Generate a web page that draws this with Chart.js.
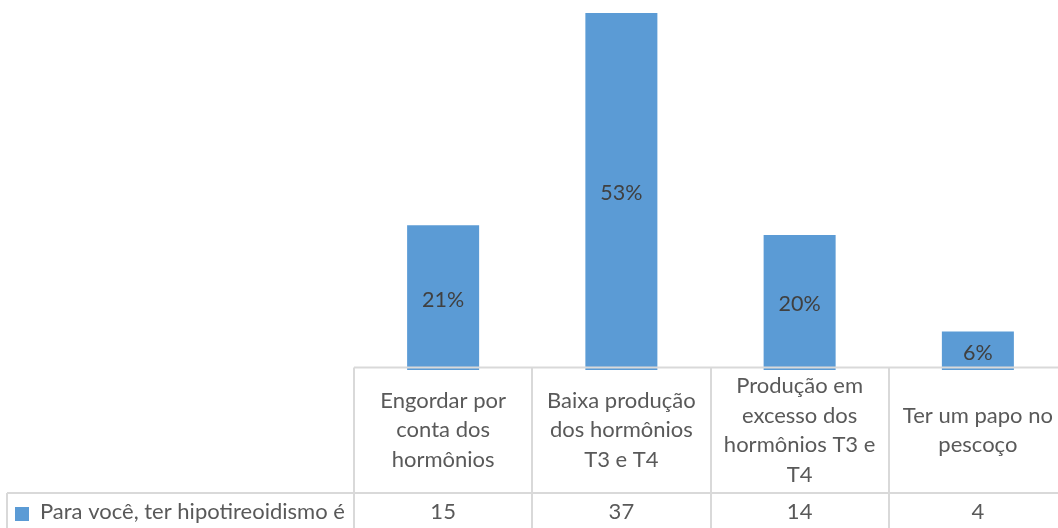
<!DOCTYPE html>
<html>
<head>
<meta charset="utf-8">
<script src="https://cdn.jsdelivr.net/npm/chart.js@4/dist/chart.umd.min.js"></script>
<style>
  html, body { margin: 0; padding: 0; background: #fff; overflow: hidden; }
  #wrap { width: 1058px; height: 528px; overflow: hidden; }
</style>
</head>
<body>
<div id="wrap"><canvas id="grafico" width="1068" height="528"></canvas></div>
<script>
// categorias (já quebradas em linhas como na tabela de dados)
var categorias = [
  ['Engordar por', 'conta dos', 'hormônios'],
  ['Baixa produção', 'dos hormônios', 'T3 e T4'],
  ['Produção em', 'excesso dos', 'hormônios T3 e', 'T4'],
  ['Ter um papo no', 'pescoço']
];
var respostas = [15, 37, 14, 4];
var nomeSerie = 'Para você, ter hipotireoidismo é';

var AZUL  = '#5b9bd5';
var LINHA = '#d9d9d9';
var FONTE = 'Lato, "Liberation Sans", sans-serif';

var total = respostas.reduce(function (a, b) { return a + b; }, 0);

// rótulos % no meio das barras + tabela de dados embaixo
var tabelaDados = {
  id: 'tabelaDados',
  afterDatasetsDraw: function (chart) {
    var ctx  = chart.ctx;
    var meta = chart.getDatasetMeta(0);
    ctx.save();
    ctx.font = '21.5px ' + FONTE;
    ctx.fillStyle = '#404040';
    ctx.textAlign = 'center';
    ctx.textBaseline = 'middle';
    meta.data.forEach(function (bar, i) {
      var pct = Math.round(respostas[i] / total * 100) + '%';
      ctx.fillText(pct, bar.x, (bar.y + bar.base) / 2 + 2);
    });
    ctx.restore();
  },
  afterDraw: function (chart) {
    var ctx  = chart.ctx;
    var area = chart.chartArea;
    var xs   = chart.scales.x;
    var larg = (area.right - area.left) / categorias.length;
    var topo = area.bottom - 2.5;
    var meio = 493;
    var fim  = chart.height + 2;

    ctx.save();
    ctx.strokeStyle = LINHA;
    ctx.lineWidth = 2;
    ctx.beginPath();
    ctx.moveTo(area.left, topo);  ctx.lineTo(chart.width, topo);
    ctx.moveTo(7, meio);          ctx.lineTo(chart.width, meio);
    ctx.moveTo(7, meio);          ctx.lineTo(7, fim);
    for (var k = 0; k <= categorias.length; k++) {
      var xv = Math.round(area.left + k * larg);
      ctx.moveTo(xv, topo); ctx.lineTo(xv, fim);
    }
    ctx.stroke();

    ctx.font = '22px ' + FONTE;
    ctx.fillStyle = '#595959';
    ctx.textAlign = 'center';
    ctx.textBaseline = 'middle';
    var alt = 29.5;
    categorias.forEach(function (linhas, i) {
      var cx = xs.getPixelForValue(i);
      var cy = (topo + meio) / 2 - (linhas.length - 1) * alt / 2;
      linhas.forEach(function (t, j) { ctx.fillText(t, cx, cy + j * alt); });
      ctx.fillText(String(respostas[i]), cx, 512);
    });

    // legenda da série
    ctx.fillStyle = AZUL;
    ctx.fillRect(15, 507, 14, 14);
    ctx.fillStyle = '#595959';
    ctx.textAlign = 'left';
    ctx.fillText(nomeSerie, 40, 512);
    ctx.restore();
  }
};

new Chart(document.getElementById('grafico'), {
  type: 'bar',
  data: {
    labels: categorias,
    datasets: [{
      label: nomeSerie,
      data: respostas,
      backgroundColor: AZUL,
      borderWidth: 0,
      categoryPercentage: 1,
      barPercentage: 0.404
    }]
  },
  options: {
    responsive: false,
    animation: false,
    layout: { padding: { left: 354, right: 1, top: 13, bottom: 158 } },
    plugins: {
      legend: { display: false },
      tooltip: { enabled: false }
    },
    scales: {
      x: { display: false },
      y: { display: false, min: 0, max: Math.max.apply(null, respostas) }
    }
  },
  plugins: [tabelaDados]
});
</script>
</body>
</html>
